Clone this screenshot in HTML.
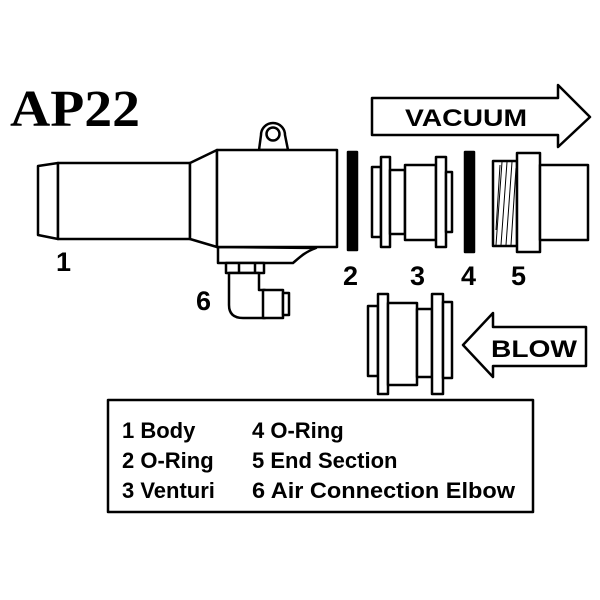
<!DOCTYPE html>
<html><head><style>body{margin:0;background:#fff}svg{display:block}</style></head><body>
<svg width="600" height="600" viewBox="0 0 600 600" xmlns="http://www.w3.org/2000/svg">
<g fill="#fff" stroke="#000" stroke-width="2.5" stroke-linejoin="round">
<text x="10" y="126" font-family="Liberation Serif" font-weight="bold" font-size="52" fill="#000" stroke="none" textLength="130" lengthAdjust="spacingAndGlyphs">AP22</text>
<!-- lug -->
<path d="M259,150 L261,135 A12,12 0 0 1 285,135 L288,150 Z"/>
<circle cx="273" cy="134" r="6.5"/>
<!-- body -->
<path d="M58,163 L38,166 L38,235 L58,239 Z"/>
<rect x="58" y="163" width="132" height="76"/>
<path d="M190,163 L217,150 L217,247 L190,239 Z"/>
<path d="M218,247 L218,263 L293,263 C300,257 305,252 316,248 Z"/>
<rect x="217" y="150" width="120" height="97"/>
<!-- nut -->
<rect x="226" y="263" width="38" height="10"/>
<line x1="239" y1="263" x2="239" y2="273"/><line x1="255" y1="263" x2="255" y2="273"/>
<!-- elbow -->
<path d="M229,273 L229,305 Q229,318 243,318 L265,318 L265,290 L259,290 L259,273 Z"/>
<rect x="263" y="290" width="20" height="28"/>
<rect x="283" y="293" width="6" height="22"/>
<!-- bars -->
<rect x="348" y="152" width="9" height="98" fill="#000"/>
<rect x="465" y="152" width="9" height="100" fill="#000"/>
<!-- venturi 3 -->
<rect x="372" y="167" width="9" height="70"/>
<rect x="381" y="157" width="9" height="90"/>
<rect x="390" y="170" width="15" height="64"/>
<rect x="405" y="165" width="31" height="75"/>
<rect x="436" y="157" width="10" height="90"/>
<rect x="446" y="172" width="6" height="60"/>
<!-- part 5 -->
<rect x="493" y="161" width="24" height="85"/>
<g stroke-width="1"><path d="M496,245 L502,162 M501,245 L507,162 M506,245 L512,162 M511,245 L516,168 M496,230 L500,165"/></g>
<rect x="517" y="153" width="23" height="99"/>
<rect x="540" y="165" width="48" height="75"/>
<!-- blow venturi -->
<rect x="368" y="306" width="10" height="70"/>
<rect x="378" y="294" width="10" height="100"/>
<rect x="388" y="303" width="29" height="82"/>
<rect x="417" y="309" width="15" height="68"/>
<rect x="432" y="294" width="11" height="100"/>
<rect x="443" y="302" width="9" height="76"/>
<!-- arrows -->
<path d="M372,98 L558,98 L558,85 L590,117 L558,147 L558,135 L372,135 Z"/>
<path d="M586,327 L493,327 L493,313 L463,345 L493,377 L493,366 L586,366 Z"/>
<!-- legend box -->
<rect x="108" y="400" width="425" height="112"/>
</g>
<g font-family="Liberation Sans" font-weight="bold" font-size="24" fill="#000">
<text x="405" y="126" textLength="122" lengthAdjust="spacingAndGlyphs">VACUUM</text>
<text x="491" y="357" textLength="86" lengthAdjust="spacingAndGlyphs">BLOW</text>
<g font-size="27">
<text x="56" y="271">1</text>
<text x="196" y="310">6</text>
<text x="343" y="285">2</text>
<text x="410" y="285">3</text>
<text x="461" y="285">4</text>
<text x="511" y="285">5</text>
</g>
</g>
<g font-family="Liberation Sans" font-weight="bold" font-size="22" fill="#000">
<text x="122" y="438">1 Body</text>
<text x="122" y="468">2 O-Ring</text>
<text x="122" y="498">3 Venturi</text>
<text x="252" y="438">4 O-Ring</text>
<text x="252" y="468">5 End Section</text>
<text x="252" y="498" textLength="263" lengthAdjust="spacingAndGlyphs">6 Air Connection Elbow</text>
</g>
</svg>
</body></html>
